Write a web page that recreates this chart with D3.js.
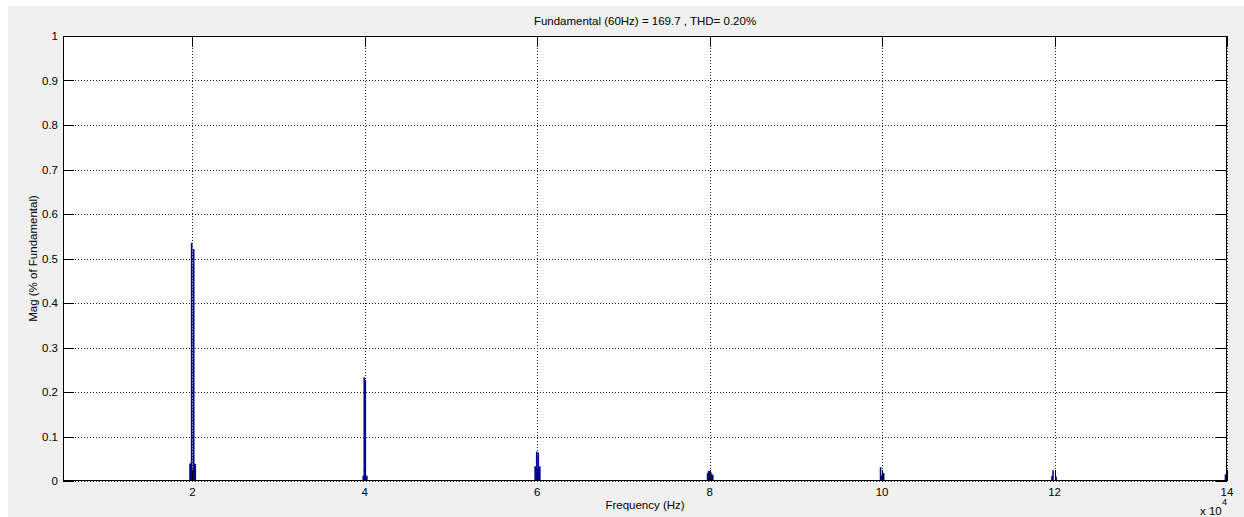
<!DOCTYPE html>
<html>
<head>
<meta charset="utf-8">
<script src="https://cdn.jsdelivr.net/npm/d3@7/dist/d3.min.js"></script>
<style>
  html, body { margin: 0; padding: 0; background: #ffffff; }
  svg { display: block; }
  text { font-family: "Liberation Sans", Arial, sans-serif; fill: #000; }
</style>
</head>
<body>
<svg id="chart" width="1244" height="517"></svg>
<script>
// Spectrum of the inverter output: harmonic frequency (Hz) and magnitude (% of fundamental)
const harmonicFreqs = [
  19740, 19800, 19920, 20160, 20220, 20340,
  39820, 39940, 40060, 40240,
  59760, 59940, 60120, 60300,
  79760, 79880, 80000, 80120, 80240, 80360,
  99820, 99940, 100180,
  119700, 119820, 120180,
  139820
];
const harmonicMags = [
  0.038, 0.040, 0.535, 0.521, 0.040, 0.038,
  0.012, 0.233, 0.227, 0.012,
  0.033, 0.066, 0.064, 0.033,
  0.018, 0.023, 0.022, 0.020, 0.015, 0.014,
  0.031, 0.012, 0.018,
  0.011, 0.024, 0.010,
  0.015
];

// Axis ticks (frequency ticks are in Hz, labelled in units of 10^4 Hz)
const xTickValues = [20000, 40000, 60000, 80000, 100000, 120000, 140000];
const xTickLabels = ["2", "4", "6", "8", "10", "12", "14"];
const yTickValues = [0, 0.1, 0.2, 0.3, 0.4, 0.5, 0.6, 0.7, 0.8, 0.9, 1];
const yTickLabels = ["0", "0.1", "0.2", "0.3", "0.4", "0.5", "0.6", "0.7", "0.8", "0.9", "1"];
const xDomain = [5000, 140000];
const yDomain = [0, 1];

const titleText = "Fundamental (60Hz) = 169.7 , THD= 0.20%";
const xLabelText = "Frequency (Hz)";
const yLabelText = "Mag (% of Fundamental)";

const svg = d3.select("#chart");
const W = 1244, H = 517;
const plotL = 63, plotR = 1227, plotT = 36, plotB = 481;

const x = d3.scaleLinear().domain(xDomain).range([plotL, plotR]);
const y = d3.scaleLinear().domain(yDomain).range([plotB, plotT]);
const crisp = v => Math.round(v) + 0.5;

// figure background
svg.append("rect").attr("x", 0).attr("y", 0).attr("width", W).attr("height", H).attr("fill", "#ffffff");
svg.append("rect").attr("x", 8).attr("y", 6).attr("width", W - 8).attr("height", H - 6).attr("fill", "#f0f0f0");

// plot area
svg.append("rect").attr("x", plotL).attr("y", plotT)
  .attr("width", plotR - plotL).attr("height", plotB - plotT).attr("fill", "#ffffff");

// dotted grid
const grid = svg.append("g").attr("stroke", "#222").attr("stroke-width", 1).attr("stroke-dasharray", "1,2");
grid.selectAll("line.gx").data(xTickValues).join("line")
  .attr("x1", d => crisp(x(d))).attr("x2", d => crisp(x(d)))
  .attr("y1", plotT).attr("y2", plotB);
grid.selectAll("line.gy").data(yTickValues).join("line")
  .attr("x1", plotL).attr("x2", plotR)
  .attr("y1", d => crisp(y(d))).attr("y2", d => crisp(y(d)));

// zero baseline of the spectrum
svg.append("line")
  .attr("x1", plotL).attr("x2", plotR)
  .attr("y1", crisp(y(0)) - 1).attr("y2", crisp(y(0)) - 1)
  .attr("stroke", "#00008f").attr("stroke-width", 1);

// spectrum bars
const barW = 1.6;
svg.append("g").selectAll("rect")
  .data(harmonicFreqs.map((f, i) => ({ f, m: harmonicMags[i] })))
  .join("rect")
  .attr("x", d => x(d.f) - barW / 2)
  .attr("width", barW)
  .attr("y", d => y(d.m))
  .attr("height", d => y(0) - y(d.m))
  .attr("fill", "#00008f");

// axes box
svg.append("rect")
  .attr("x", plotL + 0.5).attr("y", plotT + 0.5)
  .attr("width", plotR - plotL - 1).attr("height", plotB - plotT - 1)
  .attr("fill", "none").attr("stroke", "#000").attr("stroke-width", 1);

// inward tick marks on all four sides
const tickLen = 11;
const ticks = svg.append("g").attr("stroke", "#000").attr("stroke-width", 1);
xTickValues.forEach(v => {
  const px = crisp(x(v));
  ticks.append("line").attr("x1", px).attr("x2", px).attr("y1", plotB).attr("y2", plotB - tickLen);
  ticks.append("line").attr("x1", px).attr("x2", px).attr("y1", plotT).attr("y2", plotT + tickLen);
});
yTickValues.forEach(v => {
  const py = crisp(y(v));
  ticks.append("line").attr("x1", plotL).attr("x2", plotL + tickLen).attr("y1", py).attr("y2", py);
  ticks.append("line").attr("x1", plotR).attr("x2", plotR - tickLen).attr("y1", py).attr("y2", py);
});

// tick labels
svg.append("g").selectAll("text").data(xTickValues).join("text")
  .attr("x", d => x(d)).attr("y", 496)
  .attr("text-anchor", "middle").attr("font-size", 11.5)
  .text((d, i) => xTickLabels[i]);
svg.append("g").selectAll("text").data(yTickValues).join("text")
  .attr("x", 58).attr("y", d => y(d) + 4)
  .attr("text-anchor", "end").attr("font-size", 11.5)
  .text((d, i) => yTickLabels[i]);

// exponent of the frequency axis
svg.append("text").attr("x", 1200).attr("y", 515).attr("font-size", 11.5).text("x 10");
svg.append("text").attr("x", 1222).attr("y", 505).attr("font-size", 9).text("4");

// title and axis labels
svg.append("text").attr("x", (plotL + plotR) / 2).attr("y", 25)
  .attr("text-anchor", "middle").attr("font-size", 11.5).text(titleText);
svg.append("text").attr("x", (plotL + plotR) / 2).attr("y", 509)
  .attr("text-anchor", "middle").attr("font-size", 11.5).text(xLabelText);
svg.append("text")
  .attr("transform", `translate(37,${(plotT + plotB) / 2}) rotate(-90)`)
  .attr("text-anchor", "middle").attr("font-size", 11.5).text(yLabelText);
</script>
</body>
</html>
